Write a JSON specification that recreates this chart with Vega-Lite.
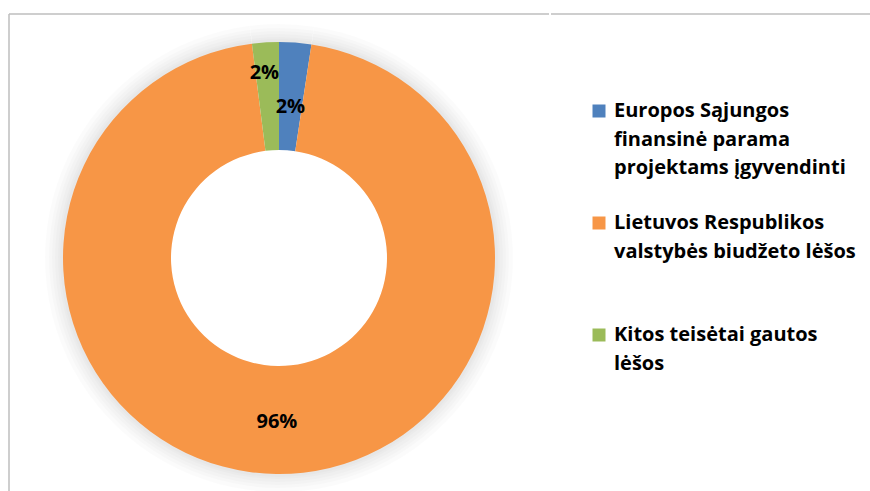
{
  "$schema": "https://vega.github.io/schema/vega-lite/v6.json",
  "padding": {"left": 8, "top": 13, "right": 0, "bottom": -10},
  "background": "white",
  "spacing": 0,
  "datasets": {
    "src": [
      {"order": 1, "name": "Europos Sąjungos finansinė parama projektams įgyvendinti", "share": 0.024},
      {"order": 2, "name": "Lietuvos Respublikos valstybės biudžeto lėšos", "share": 0.956},
      {"order": 3, "name": "Kitos teisėtai gautos lėšos", "share": 0.020}
    ]
  },
  "resolve": {"legend": {"color": "independent"}},
  "hconcat": [
    {
      "width": 540,
      "height": 488,
      "view": {"stroke": "#BFBFBF", "strokeWidth": 1.5, "strokeDash": [540, 1028, 488, 0]},
      "data": {"name": "src"},
      "encoding": {
        "theta": {"field": "share", "type": "quantitative", "stack": true},
        "order": {"field": "order", "type": "quantitative"}
      },
      "layer": [
        {"mark": {"type": "arc", "outerRadius": 234, "innerRadius": 200, "color": "#000", "opacity": 0.015}},
        {"mark": {"type": "arc", "outerRadius": 230, "innerRadius": 200, "color": "#000", "opacity": 0.015}},
        {"mark": {"type": "arc", "outerRadius": 227, "innerRadius": 200, "color": "#000", "opacity": 0.015}},
        {"mark": {"type": "arc", "outerRadius": 224, "innerRadius": 200, "color": "#000", "opacity": 0.015}},
        {"mark": {"type": "arc", "outerRadius": 221, "innerRadius": 200, "color": "#000", "opacity": 0.015}},
        {"mark": {"type": "arc", "outerRadius": 219, "innerRadius": 200, "color": "#000", "opacity": 0.015}},
        {
          "mark": {"type": "arc", "outerRadius": 216, "innerRadius": 108},
          "encoding": {
            "color": {
              "field": "name", "type": "nominal", "legend": null,
              "scale": {
                "domain": ["Europos Sąjungos finansinė parama projektams įgyvendinti", "Lietuvos Respublikos valstybės biudžeto lėšos", "Kitos teisėtai gautos lėšos"],
                "range": ["#4F81BD", "#F79646", "#9BBB59"]
              }
            }
          }
        },
        {
          "mark": {"type": "text", "radius": 151, "font": "Open Sans", "fontSize": 20, "fontWeight": "bold", "color": "#000", "align": "center", "baseline": "middle"},
          "encoding": {
            "text": {"condition": {"test": "datum.order == 1", "field": "share", "format": ".0%"}, "value": ""}
          }
        },
        {
          "mark": {"type": "text", "radius": 164, "font": "Open Sans", "fontSize": 20, "fontWeight": "bold", "color": "#000", "align": "center", "baseline": "middle"},
          "encoding": {
            "text": {"condition": {"test": "datum.order == 2", "field": "share", "format": ".0%"}, "value": ""}
          }
        },
        {
          "mark": {"type": "text", "radius": 185, "dx": -3, "font": "Open Sans", "fontSize": 20, "fontWeight": "bold", "color": "#000", "align": "center", "baseline": "middle"},
          "encoding": {
            "text": {"condition": {"test": "datum.order == 3", "field": "share", "format": ".0%"}, "value": ""}
          }
        }
      ]
    },
    {
      "width": 322,
      "height": 488,
      "view": {"stroke": "#BFBFBF", "strokeWidth": 1.5, "strokeDash": [322, 3000]},
      "data": {"name": "src"},
      "mark": {"type": "square", "opacity": 0},
      "encoding": {
        "color": {
          "field": "name", "type": "nominal",
          "scale": {
            "domain": ["Europos Sąjungos finansinė parama projektams įgyvendinti", "Lietuvos Respublikos valstybės biudžeto lėšos", "Kitos teisėtai gautos lėšos"],
            "range": ["#4F81BD", "#F79646", "#9BBB59"]
          },
          "legend": {
            "orient": "none", "legendX": 38, "legendY": 87, "title": null,
            "symbolType": "square", "symbolSize": 169, "symbolStrokeWidth": 0, "symbolOpacity": 1,
            "labelFont": "Open Sans", "labelFontSize": 20, "labelFontWeight": "bold", "labelColor": "#000",
            "labelLimit": 400, "labelOffset": 5, "rowPadding": 6, "labelBaseline": "middle",
            "labelExpr": "datum.value == 'Europos Sąjungos finansinė parama projektams įgyvendinti' ? ['Europos Sąjungos', 'finansinė parama', 'projektams įgyvendinti', ' '] : datum.value == 'Lietuvos Respublikos valstybės biudžeto lėšos' ? ['Lietuvos Respublikos', 'valstybės biudžeto lėšos', ' ', ' '] : ['Kitos teisėtai gautos', 'lėšos']",
            "encode": {"labels": {"update": {"lineHeight": {"value": 28.5}}}}
          }
        }
      }
    }
  ]
}
